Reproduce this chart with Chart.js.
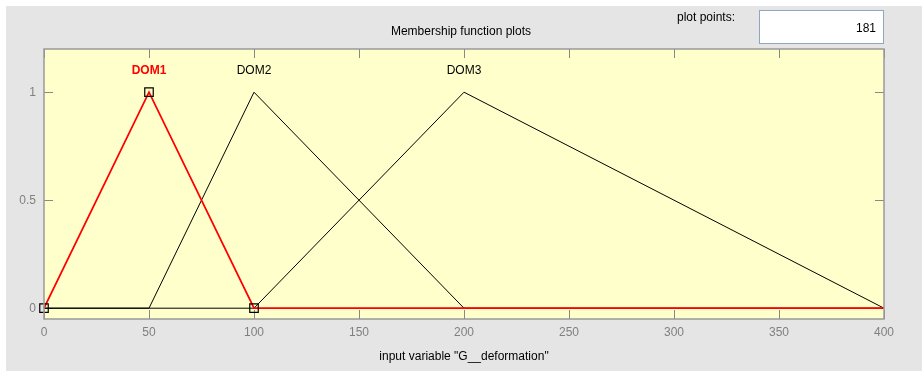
<!DOCTYPE html>
<html>
<head>
<meta charset="utf-8">
<script src="https://cdn.jsdelivr.net/npm/chart.js@4"></script>
<style>
  body { margin: 0; background: #fff; font-family: "Liberation Sans", Arial, sans-serif; }
  #wrap { position: relative; width: 922px; height: 371px; overflow: hidden; }
  #panel { position: absolute; left: 6px; top: 6px; width: 916px; height: 365px; background: #e5e5e5; }
  canvas { position: absolute; left: 0; top: 0; }
  .txt { position: absolute; font-size: 12px; color: #000; white-space: nowrap; line-height: 14px; }
  #title { left: 361px; top: 24px; width: 200px; text-align: center; }
  #pp { left: 677px; top: 10px; }
  #ppBox { position: absolute; left: 759px; top: 10px; width: 116px; height: 32px; padding-right: 7px;
           background: #fff; border: 1px solid #8ea6c2; text-align: right; font-size: 12px; line-height: 34px; }
</style>
</head>
<body>
<div id="wrap">
  <div id="panel"></div>
  <canvas id="mf" width="922" height="371"></canvas>
  <div class="txt" id="title">Membership function plots</div>
  <div class="txt" id="pp">plot points:</div>
  <div id="ppBox">181</div>
</div>
<script>
// membership functions of input "G__deformation" (trimf breakpoints)
const mfNames = ["DOM1", "DOM2", "DOM3"];
const dom1X = [0, 50, 100, 400];
const dom1Y = [0, 1, 0, 0];
const dom2X = [0, 50, 100, 200, 400];
const dom2Y = [0, 0, 1, 0, 0];
const dom3X = [0, 100, 200, 400];
const dom3Y = [0, 0, 1, 0];
const xTicks = [0, 50, 100, 150, 200, 250, 300, 350, 400];
const yTicks = [0, 0.5, 1];
const xLabel = 'input variable "G__deformation"';

function pts(xs, ys) {
  return xs.map((x, i) => ({ x: x, y: ys[i] }));
}

const mfData = [pts(dom1X, dom1Y), pts(dom2X, dom2Y), pts(dom3X, dom3Y)];

const axesLook = {
  id: "axesLook",
  beforeDatasetsDraw(chart) {
    const ctx = chart.ctx, a = chart.chartArea;
    const xs = chart.scales.x, ys = chart.scales.y;
    ctx.save();
    ctx.fillStyle = "#ffffcc";
    ctx.fillRect(a.left, a.top, a.right - a.left, a.bottom - a.top);
    ctx.strokeStyle = "#888";
    ctx.lineWidth = 1;
    const tl = 9;
    ctx.beginPath();
    xTicks.forEach((v) => {
      const px = Math.round(xs.getPixelForValue(v)) + 0.5;
      ctx.moveTo(px, a.bottom); ctx.lineTo(px, a.bottom - tl);
      ctx.moveTo(px, a.top); ctx.lineTo(px, a.top + tl);
    });
    yTicks.forEach((v) => {
      const py = Math.round(ys.getPixelForValue(v)) + 0.5;
      ctx.moveTo(a.left, py); ctx.lineTo(a.left + tl, py);
      ctx.moveTo(a.right, py); ctx.lineTo(a.right - tl, py);
    });
    ctx.stroke();
    ctx.restore();
  },
  afterDatasetsDraw(chart) {
    const ctx = chart.ctx, a = chart.chartArea;
    const xs = chart.scales.x, ys = chart.scales.y;
    ctx.save();
    ctx.strokeStyle = "#999";
    ctx.lineWidth = 1.5;
    ctx.strokeRect(a.left, a.top, a.right - a.left, a.bottom - a.top);
    // MF names above their peaks
    ctx.textAlign = "center";
    ctx.textBaseline = "middle";
    mfNames.forEach((nm, i) => {
      const d = mfData[i];
      let best = d[0];
      d.forEach((p) => { if (p.y > best.y) best = p; });
      ctx.fillStyle = i === 0 ? "#ff0000" : "#000";
      ctx.font = (i === 0 ? "bold " : "") + "12px 'Liberation Sans', Arial, sans-serif";
      ctx.fillText(nm, xs.getPixelForValue(best.x), ys.getPixelForValue(best.y) - 22);
    });
    ctx.restore();
  }
};

new Chart(document.getElementById("mf"), {
  type: "scatter",
  data: {
    datasets: [
      {
        label: mfNames[0],
        data: mfData[0],
        showLine: true,
        borderColor: "#ff0000",
        borderWidth: 1.8,
        pointStyle: "rect",
        pointRadius: [6, 6, 6, 0],
        pointBorderColor: "#000",
        pointBorderWidth: 1.2,
        pointBackgroundColor: "rgba(0,0,0,0)",
        clip: false
      },
      {
        label: mfNames[1],
        data: mfData[1],
        showLine: true,
        borderColor: "#000",
        borderWidth: 1,
        pointRadius: 0
      },
      {
        label: mfNames[2],
        data: mfData[2],
        showLine: true,
        borderColor: "#000",
        borderWidth: 1,
        pointRadius: 0
      }
    ]
  },
  options: {
    responsive: false,
    animation: false,
    layout: { padding: { left: 0, top: 49, right: 38, bottom: 0 } },
    plugins: { legend: { display: false }, tooltip: { enabled: false } },
    scales: {
      x: {
        type: "linear",
        min: 0,
        max: 400,
        afterBuildTicks: (s) => { s.ticks = xTicks.map((v) => ({ value: v })); },
        afterFit: (s) => { s.height = 52; },
        grid: { display: false, drawTicks: false, tickLength: 0 },
        border: { display: false },
        ticks: { color: "#808080", font: { size: 12, family: "'Liberation Sans', Arial" }, padding: 6, maxRotation: 0,
                 callback: (v) => String(v) },
        title: { display: true, text: xLabel, color: "#000", font: { size: 12, family: "'Liberation Sans', Arial" }, padding: { top: 0, bottom: 7 } }
      },
      y: {
        type: "linear",
        min: -0.05,
        max: 1.2,
        afterBuildTicks: (s) => { s.ticks = yTicks.map((v) => ({ value: v })); },
        afterFit: (s) => { s.width = 44; },
        grid: { display: false, drawTicks: false, tickLength: 0 },
        border: { display: false },
        ticks: { color: "#808080", font: { size: 12, family: "'Liberation Sans', Arial" }, padding: 8,
                 callback: (v) => String(v) }
      }
    }
  },
  plugins: [axesLook]
});
</script>
</body>
</html>
